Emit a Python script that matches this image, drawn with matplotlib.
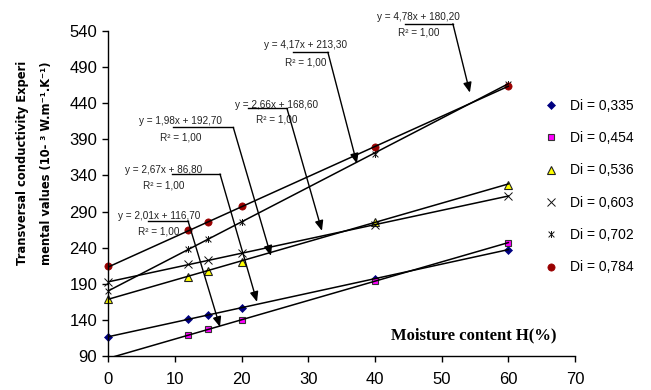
import matplotlib

matplotlib.use("Agg")
import matplotlib.pyplot as plt
import numpy as np
from matplotlib.path import Path
from matplotlib.lines import Line2D

# data
moisture = [0, 12, 15, 20, 40, 60]
series_labels = ["Di = 0,335", "Di = 0,454", "Di = 0,536",
                 "Di = 0,603", "Di = 0,702", "Di = 0,784"]
di_0335 = [116.7, 141, 147, 157, 197, 237]
di_0454 = [86.8, 119, 127, 140, 194, 247]
di_0536 = [168.6, 199, 207, 220, 275, 327]
di_0603 = [193, 217, 223, 232, 272, 311]
di_0702 = [180, 238, 252, 275, 370, 467]
di_0784 = [214, 264, 276, 298, 380, 464]

# trendline coefficients printed on the chart
slopes = [2.01, 2.67, 2.66, 1.98, 4.78, 4.17]
intercepts = [116.70, 86.80, 168.60, 192.70, 180.20, 213.30]

y_ticks = [90, 140, 190, 240, 290, 340, 390, 440, 490, 540]
x_ticks = [0, 10, 20, 30, 40, 50, 60, 70]

# callout layout: (series, text x, eq y, r2 y, hline x0, hline x1, hline y, tip x, tip y)
callouts = [
    (0, 7.6, 284, 262, 5.95, 11.95, 277.2, 16.75, 130.2),
    (1, 8.35, 347, 326, 9.55, 16.75, 342, 22.3, 164.9),
    (3, 10.8, 415, 393, 9.65, 18.74, 406.6, 24.39, 228.7),
    (2, 25.3, 437.4, 417, 20.94, 26.79, 432.9, 32.04, 263.3),
    (5, 29.6, 521.3, 497, 27.69, 32.93, 510.6, 37.29, 356.3),
    (4, 46.5, 559.7, 537.5, 44.48, 51.68, 550, 54.23, 454.7),
]

star = Path([(-1, -1), (1, 1), (-1, 1), (1, -1), (0, -1.2), (0, 1.2)],
            [Path.MOVETO, Path.LINETO, Path.MOVETO, Path.LINETO,
             Path.MOVETO, Path.LINETO])
styles = [
    dict(marker="D", color="#000080", mec="#000080", ms=4.5, mew=0.5),
    dict(marker="s", color="#ff00ff", mec="#333333", ms=5, mew=0.8),
    dict(marker="^", color="#ffff00", mec="#222222", ms=5.5, mew=0.8),
    dict(marker="x", color="#111111", mec="#111111", ms=5.5, mew=0.7),
    dict(marker=star, color="#111111", mec="#111111", ms=5, mew=0.7),
    dict(marker="o", color="#990000", mec="#990000", ms=5.2, mew=0.5),
]

all_series = [di_0335, di_0454, di_0536, di_0603, di_0702, di_0784]

fig = plt.figure(figsize=(6.51, 3.90), dpi=100)
ax = fig.add_axes([0.1664, 0.0872, 0.7169, 0.8333])
ax.set_xlim(0, 70)
ax.set_ylim(90, 540)

xs = np.array(moisture, dtype=float)
for vals, st, k, b in zip(all_series, styles, slopes, intercepts):
    vals = np.array(vals, dtype=float)
    line_x = np.array([xs.min(), xs.max()])
    ax.plot(line_x, k * line_x + b, color="black", lw=1.1, zorder=3)
    keep = vals >= 90
    ax.plot(xs[keep], vals[keep], linestyle="none", marker=st["marker"],
            mfc=st["color"], mec=st["mec"], ms=st["ms"], mew=st["mew"],
            clip_on=False, zorder=2)

for idx, tx, ey, ry, hx0, hx1, hy, px, py in callouts:
    eq = f"y = {slopes[idx]:.2f}x + {intercepts[idx]:.2f}".replace(".", ",")
    ax.text(tx, ey, eq, ha="center", va="center", fontsize=7.2,
            family="Liberation Sans", color="#222222", clip_on=False)
    ax.text(tx, ry, "R² = 1,00", ha="center", va="center", fontsize=7.2,
            family="Liberation Sans", color="#222222", clip_on=False)
    ax.plot([hx0, hx1], [hy, hy], color="black", lw=1.0, clip_on=False, zorder=4)
    ax.annotate("", xy=(px, py), xytext=(hx1, hy), annotation_clip=False,
                arrowprops=dict(arrowstyle="-|>,head_length=0.6,head_width=0.25",
                                color="black", lw=1.0, shrinkA=0, shrinkB=0),
                zorder=4)

for side in ("top", "right"):
    ax.spines[side].set_visible(False)
for side in ("left", "bottom"):
    ax.spines[side].set_linewidth(1.0)
ax.set_yticks(y_ticks)
ax.set_xticks(x_ticks)
ax.tick_params(axis="y", direction="out", length=4, width=1, pad=4)
ax.tick_params(axis="x", direction="out", length=4.5, width=1, pad=7)
for lab in ax.get_xticklabels() + ax.get_yticklabels():
    lab.set_fontfamily("Liberation Sans")
    lab.set_fontsize(12)

handles = [Line2D([], [], linestyle="none", marker=st["marker"], mfc=st["color"],
                  mec=st["mec"], ms=st["ms"], mew=st["mew"])
           for st in styles]
fig.legend(handles, series_labels, loc="upper left",
           bbox_to_anchor=(543.8 / 651, (390 - 98.7) / 390),
           frameon=False, borderpad=0, borderaxespad=0, handlelength=1.0,
           handletextpad=0.89, labelspacing=1.32,
           prop={"family": "Liberation Sans", "size": 10})

fig.text(22.7 / 651, 1 - 163 / 390, "Transversal conductivity Experi",
         rotation=90, ha="center", va="center", fontsize=8.3,
         fontweight="bold", family="DejaVu Sans")
fig.text(46.7 / 651, 1 - 163 / 390, "mental values (10- ³ W.m⁻¹.K⁻¹)",
         rotation=90, ha="center", va="center", fontsize=8.3,
         fontweight="bold", family="DejaVu Sans")
fig.text(474 / 651, 1 - 335 / 390, "Moisture content H(%)",
         ha="center", va="center", fontsize=12, fontweight="bold",
         family="Liberation Serif")

fig.savefig("out.png", dpi=100)
